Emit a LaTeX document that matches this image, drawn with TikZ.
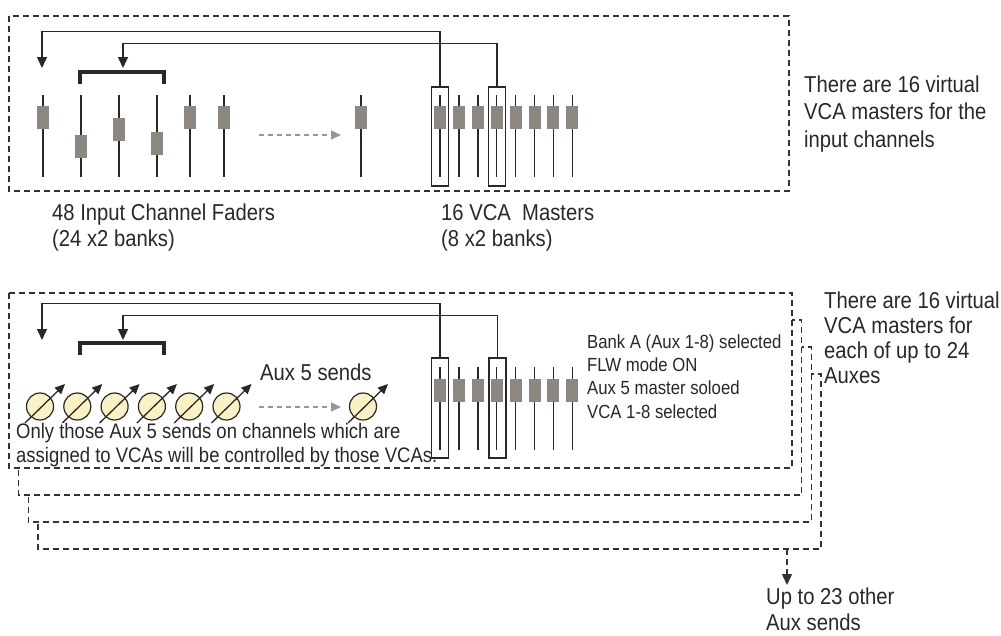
\documentclass[tikz,border=0pt]{standalone}
\usepackage{fontspec}
\setmainfont[FakeStretch=0.88]{Liberation Sans}
\usetikzlibrary{arrows.meta}
\definecolor{ink}{RGB}{40,40,40}
\definecolor{framegrey}{RGB}{50,50,50}
\definecolor{knobgrey}{RGB}{140,135,128}
\definecolor{dialfill}{RGB}{250,241,196}
\definecolor{ghost}{RGB}{150,150,150}
\tikzset{
  frame/.style   = {draw=framegrey, line width=1.4pt, dash pattern=on 6pt off 4pt},
  rail/.style    = {draw=ink, line width=1.4pt},
  knob/.style    = {fill=knobgrey},
  selbox/.style  = {draw=ink, line width=1.3pt, minimum width=17pt, minimum height=99pt, inner sep=0pt},
  link/.style    = {-{Triangle[length=11pt,width=10pt]}, draw=ink, line width=1.4pt},
  brace/.style   = {draw=ink, line width=4pt},
  ellip/.style   = {-{Triangle[length=10pt,width=9pt]}, draw=ghost, line width=1.3pt, dash pattern=on 5pt off 4pt},
  dialface/.style= {draw=ink, line width=1.2pt, fill=dialfill},
  dialptr/.style = {-{Triangle[length=10pt,width=9pt]}, draw=ink, line width=1.3pt},
  lbl/.style     = {font=\fontsize{23}{26}\selectfont, text=ink, align=left, anchor=base west, inner sep=0pt},
  note/.style    = {font=\fontsize{21}{24}\selectfont, text=ink, align=left, anchor=base west, inner sep=0pt},
  state/.style   = {font=\fontsize{19}{23.3}\selectfont, text=ink, align=left, anchor=base west, inner sep=0pt},
}
% fader: x, knob centre y, rail top, rail bottom
\newcommand{\fader}[4]{\draw[rail] (#1,#3) -- (#1,#4);
  \fill[knob] (#1-6,#2-11.5) rectangle (#1+6,#2+11.5);}
% rotary send: centre x, centre y
\newcommand{\dial}[2]{\draw[dialface] (#1,#2) circle (13.5);
  \draw[dialptr] (#1-15,#2+16.5) -- (#1+25,#2-22.5);}

\begin{document}
\begin{tikzpicture}[x=1pt, y=-1pt]
\useasboundingbox (0,0) rectangle (1001,635);

% ======================================================= input channels
% multi-line labels sit on the baseline of their LAST line
\draw[frame] (9,16) rectangle (789,191);

\fader{43}{117.5}{95}{177}
\fader{81}{146.5}{95}{177}
\fader{119}{129.5}{95}{177}
\fader{157}{143.5}{95}{177}
\fader{190}{117.5}{95}{177}
\fader{224}{117.5}{95}{177}
\fader{361}{117.5}{95}{177}
\draw[ellip] (259,135) -- (341,135);

\foreach \i in {0,...,7}{\fader{440+18.9*\i}{117.5}{95}{177}}
\node[selbox] (selA) at (440,136.5) {};
\node[selbox] (selB) at (497,136.5) {};

\draw[brace] (80,84) -- (80,72) -- (164,72) -- (164,84);
\coordinate (tgtA) at (42,68);
\coordinate (tgtB) at (123,68);
\draw[link] (selA.north) -- ++(0,-55) -| (tgtA);
\draw[link] (selB.north) -- ++(0,-43) -| (tgtB);

\node[lbl] (inlbl) at (52,246) {48 Input Channel Faders\\(24 x2 banks)};
\node[lbl] (vcalbl) at (441,246) {16 VCA~ Masters\\(8 x2 banks)};
\node[lbl, font=\fontsize{23}{27.5}\selectfont] (toplbl) at (804,147)
  {There are 16 virtual\\VCA masters for the\\input channels};

% ======================================================= aux sends
% stacked copies behind, each 9.7 right and 27 down, white so they hide
\foreach \k in {3,2,1}{
  \draw[frame, fill=white] (9+9.7*\k,293+27*\k) rectangle (792+9.7*\k,468+27*\k);}
\draw[frame, fill=white] (9,293) rectangle (792,468);

\foreach \i in {0,...,5}{\dial{40+37.3*\i}{406.5}}
\dial{363}{406.5}
\draw[ellip] (259,407) -- (341,407);
\node[lbl] (auxlbl) at (260,380) {Aux 5 sends};
\node[note] (onlylbl) at (16,462)
  {Only those Aux 5 sends on channels which are\\assigned to VCAs will be controlled by those VCAs.};

\foreach \i in {0,...,7}{\fader{440+18.9*\i}{390}{367}{450}}
\node[selbox, minimum height=100pt] (selC) at (440,408) {};
\node[selbox, minimum height=100pt] (selD) at (497.5,408) {};

\draw[brace] (80,355) -- (80,343) -- (164,343) -- (164,355);
\coordinate (tgtC) at (42,340);
\coordinate (tgtD) at (123,340);
\draw[link] (selC.north) -- ++(0,-54) -| (tgtC);
\draw[link] (selD.north) -- ++(0,-42) -| (tgtD);

\node[state] (banklbl) at (587,418)
  {Bank A (Aux 1-8) selected\\FLW mode ON\\Aux 5 master soloed\\VCA 1-8 selected};
\node[lbl, font=\fontsize{23}{25}\selectfont] (auxvca) at (824,383)
  {There are 16 virtual\\VCA masters for\\each of up to 24\\Auxes};

\coordinate (stack) at (787,549);
\coordinate (uptip) at (787,585);
\draw[frame, -{Triangle[length=11pt,width=10pt]}] (stack) -- (uptip);
\node[lbl] (uplbl) at (766,630) {Up to 23 other\\Aux sends};

\end{tikzpicture}
\end{document}
